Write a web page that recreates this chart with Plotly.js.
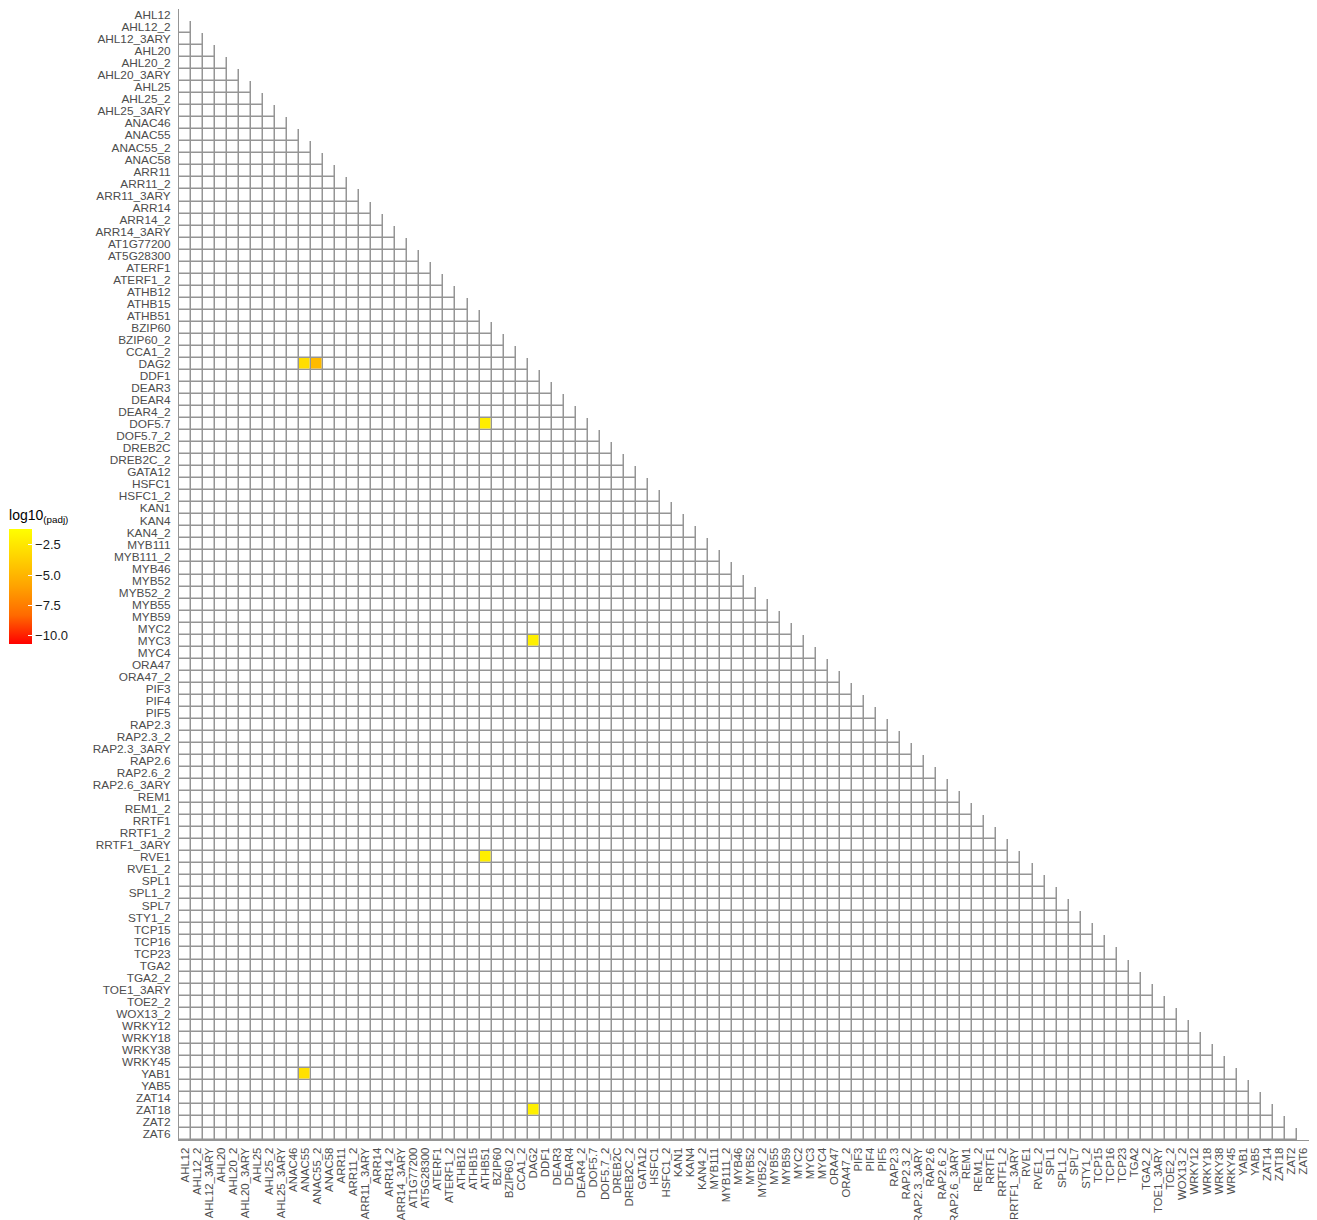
<!DOCTYPE html>
<html>
<head>
<meta charset="utf-8">
<script src="https://cdn.plot.ly/plotly-3.0.1.min.js"></script>
<style>html,body{margin:0;padding:0;background:#fff;}#chart{width:1317px;height:1220px;}</style>
</head>
<body>
<div id="chart"></div>
<script>
// Gene names (same order on both axes; y from top, x from left)
const genes = ["AHL12","AHL12_2","AHL12_3ARY","AHL20","AHL20_2","AHL20_3ARY","AHL25","AHL25_2","AHL25_3ARY",
"ANAC46","ANAC55","ANAC55_2","ANAC58","ARR11","ARR11_2","ARR11_3ARY","ARR14","ARR14_2","ARR14_3ARY",
"AT1G77200","AT5G28300","ATERF1","ATERF1_2","ATHB12","ATHB15","ATHB51","BZIP60","BZIP60_2","CCA1_2",
"DAG2","DDF1","DEAR3","DEAR4","DEAR4_2","DOF5.7","DOF5.7_2","DREB2C","DREB2C_2","GATA12","HSFC1",
"HSFC1_2","KAN1","KAN4","KAN4_2","MYB111","MYB111_2","MYB46","MYB52","MYB52_2","MYB55","MYB59",
"MYC2","MYC3","MYC4","ORA47","ORA47_2","PIF3","PIF4","PIF5","RAP2.3","RAP2.3_2","RAP2.3_3ARY",
"RAP2.6","RAP2.6_2","RAP2.6_3ARY","REM1","REM1_2","RRTF1","RRTF1_2","RRTF1_3ARY","RVE1","RVE1_2",
"SPL1","SPL1_2","SPL7","STY1_2","TCP15","TCP16","TCP23","TGA2","TGA2_2","TOE1_3ARY","TOE2_2",
"WOX13_2","WRKY12","WRKY18","WRKY38","WRKY45","YAB1","YAB5","ZAT14","ZAT18","ZAT2","ZAT6"];

// Significant pairs (row gene, column gene, log10 padj)
const sigRow = ["DAG2","DAG2","DOF5.7","MYC3","RVE1","YAB1","ZAT18"];
const sigCol = ["ANAC55","ANAC55_2","ATHB51","DAG2","ATHB51","ANAC55","DAG2"];
const sigVal = [-3.0, -4.7, -2.1, -2.0, -2.1, -2.8, -2.0];

// Colour bar ticks
const cbTickVals = [-2.5, -5, -7.5, -10];
const cbTickText = ["\u22122.5", "\u22125.0", "\u22127.5", "\u221210.0"];

const n = genes.length;
const gridZ = [], sigZ = [];
for (let i = 0; i < n; i++) {
  const g = [], s = [];
  for (let j = 0; j < n; j++) { g.push(j < i ? 0 : null); s.push(null); }
  gridZ.push(g); sigZ.push(s);
}
for (let k = 0; k < sigRow.length; k++) {
  const i = genes.indexOf(sigRow[k]), j = genes.indexOf(sigCol[k]);
  sigZ[i][j] = sigVal[k];
}

const lineGrey = "#959595";
const gap = 1.5;
const fam = "Liberation Sans, Arial, sans-serif";
const traces = [
  {type:"heatmap", x:genes, y:genes, z:gridZ, colorscale:[[0,lineGrey],[1,lineGrey]], showscale:false, hoverinfo:"skip"},
  {type:"heatmap", x:genes, y:genes, z:gridZ, colorscale:[[0,"#ffffff"],[1,"#ffffff"]], showscale:false, xgap:gap, ygap:gap, hoverinfo:"skip"},
  {type:"heatmap", x:genes, y:genes, z:sigZ, zmin:-10.7, zmax:-1.2, xgap:gap, ygap:gap,
   colorscale:[[0,"#ff0000"],[0.25,"#ff6a00"],[0.5,"#ffa200"],[0.75,"#ffd200"],[1,"#ffff00"]],
   colorbar:{
     title:{text:"log10<sub>(padj)</sub>", side:"top", font:{family:fam, size:14, color:"#000"}},
     x:-0.1504, xanchor:"left", xref:"paper", xpad:0,
     y:0.4995, yanchor:"middle", ypad:0,
     thickness:23, thicknessmode:"pixels", len:138, lenmode:"pixels",
     outlinewidth:0, ticks:"inside", ticklen:4, tickcolor:"#ffffff", tickwidth:1,
     tickvals:cbTickVals, ticktext:cbTickText,
     tickfont:{family:fam, size:13, color:"#1a1a1a"}
   }}
];

const yFont = {family:fam, size:11.8, color:"#4d4d4d"};
const xFont = {family:fam, size:11.4, color:"#4d4d4d"};
const layout = {
  width:1317, height:1220,
  margin:{l:179, r:8, t:8.5, b:80, pad:0},
  paper_bgcolor:"#ffffff", plot_bgcolor:"#ffffff",
  showlegend:false,
  xaxis:{type:"category", tickmode:"array", tickvals:genes, ticktext:genes, tickangle:-90, tickfont:xFont,
         showgrid:false, zeroline:false, showline:true, linecolor:lineGrey, linewidth:1, ticks:"",
         ticklabelstandoff:2, automargin:false},
  yaxis:{type:"category", tickmode:"array", tickvals:genes, ticktext:genes, autorange:"reversed", tickfont:yFont,
         showgrid:false, zeroline:false, showline:true, linecolor:lineGrey, linewidth:1, ticks:"",
         ticklabelstandoff:5, automargin:false}
};

Plotly.newPlot("chart", traces, layout, {displayModeBar:false, staticPlot:true});
</script>
</body>
</html>
